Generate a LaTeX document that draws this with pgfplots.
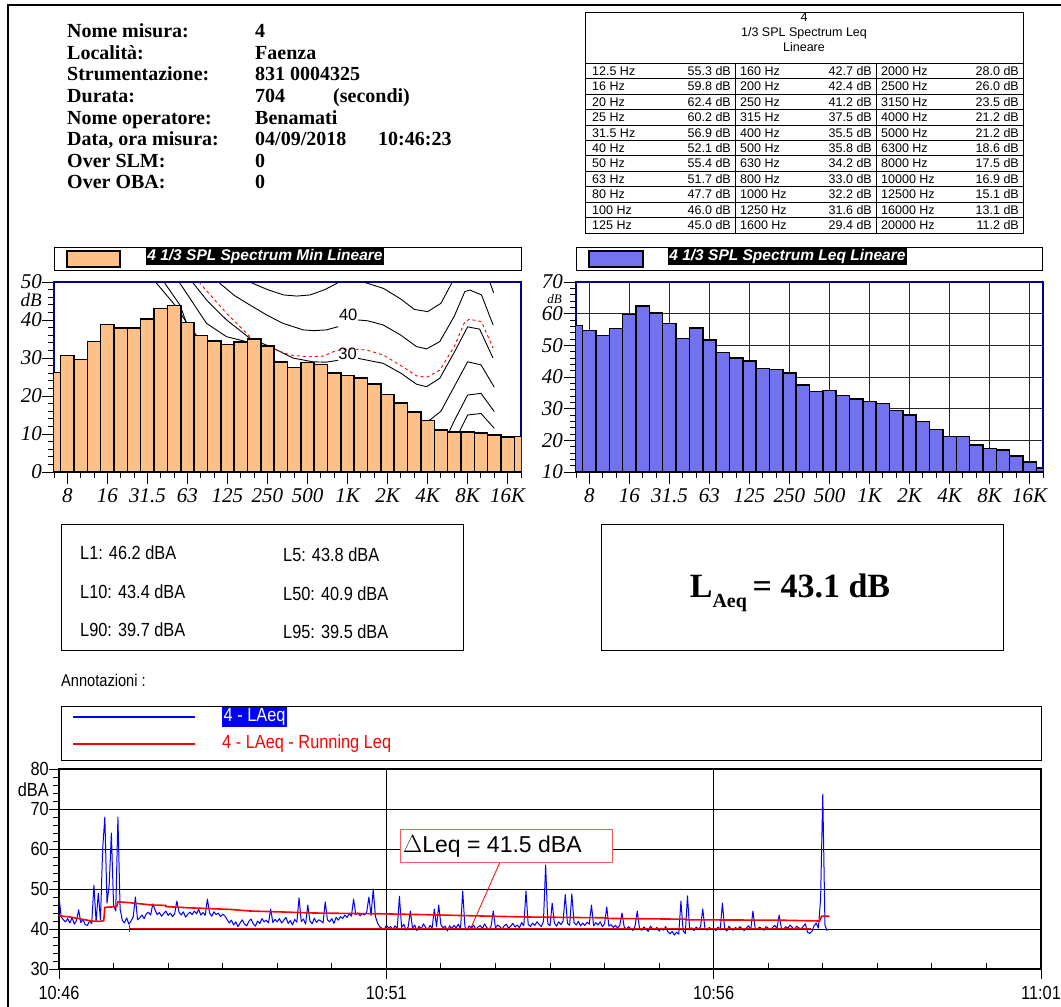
\documentclass[border=0pt]{standalone}
\usepackage{fontspec}
\setmainfont{Liberation Sans}
\newfontfamily\tnr{Liberation Serif}
\newfontfamily\arn[FakeStretch=0.86]{Liberation Sans}
\usepackage{pgfplots}
\usepackage{pgfplotstable}
\pgfplotsset{compat=1.18}
\newcommand{\fs}[1]{\fontsize{#1}{#1}\selectfont}
\definecolor{barorange}{RGB}{253,192,134}
\definecolor{barblue}{RGB}{115,115,240}
\definecolor{navyframe}{RGB}{0,0,140}
\definecolor{annred}{RGB}{250,90,90}

% 1/3 octave bands: idx 0 = 6.3 Hz ... idx 35 = 20 kHz
\pgfplotstableread{
idx minv leqv
0 26.2 56.3
1 30.6 54.7
2 29.6 53.1
3 34.4 55.3
4 38.8 59.8
5 37.9 62.4
6 37.9 60.2
7 40.3 56.9
8 43.0 52.1
9 43.8 55.4
10 39.3 51.7
11 35.9 47.7
12 34.5 46.0
13 33.5 45.0
14 34.2 42.7
15 35.0 42.4
16 33.1 41.2
17 28.9 37.5
18 27.5 35.5
19 28.8 35.8
20 28.3 34.2
21 26.0 33.0
22 25.4 32.2
23 24.7 31.6
24 23.1 29.4
25 20.4 28.0
26 18.1 26.0
27 15.8 23.5
28 13.5 21.2
29 11.1 21.2
30 10.5 18.6
31 10.5 17.5
32 10.2 16.9
33 9.8 15.1
34 9.2 13.1
35 9.4 11.2
}\spectra

% LAeq, one value every 2 s from the start
\pgfplotstableread[row sep=\\]{v\\
48.2\\43.0\\42.3\\41.8\\42.6\\41.5\\42.9\\41.2\\42.1\\44.8\\41.6\\42.4\\41.1\\40.9\\42.0\\41.4\\51.0\\41.8\\49.0\\42.2\\
60.0\\68.0\\46.5\\51.0\\64.0\\46.0\\44.5\\68.0\\45.0\\42.2\\41.5\\42.8\\41.2\\42.0\\43.0\\48.0\\42.3\\42.8\\43.5\\42.6\\
43.8\\44.2\\43.5\\46.3\\44.8\\43.6\\44.1\\43.2\\43.9\\44.5\\43.4\\44.0\\43.1\\43.8\\47.0\\44.2\\43.5\\44.3\\43.0\\43.7\\
44.2\\43.6\\44.5\\43.8\\44.9\\43.5\\44.1\\43.4\\47.5\\44.0\\43.2\\44.3\\43.6\\44.0\\43.1\\43.7\\43.3\\42.4\\41.5\\42.2\\
41.0\\41.8\\40.6\\41.5\\42.3\\41.2\\40.8\\41.9\\42.5\\41.3\\40.7\\42.0\\41.4\\42.6\\41.8\\42.2\\41.5\\45.0\\41.6\\42.4\\
41.8\\42.6\\41.5\\42.2\\42.9\\41.4\\42.1\\41.0\\42.4\\41.7\\47.8\\41.9\\42.5\\41.2\\46.0\\42.0\\41.3\\42.7\\41.6\\42.3\\
42.0\\41.5\\46.8\\42.3\\41.8\\42.6\\41.4\\42.9\\42.2\\43.1\\42.6\\43.5\\42.9\\43.8\\43.2\\47.5\\43.6\\44.0\\43.3\\43.9\\
43.5\\44.2\\48.0\\43.4\\50.0\\43.1\\41.5\\40.5\\40.2\\39.8\\40.9\\40.3\\40.6\\39.9\\40.8\\40.1\\48.2\\40.4\\41.2\\39.7\\
40.5\\44.5\\40.2\\41.0\\39.6\\40.7\\40.0\\41.3\\40.4\\39.8\\40.9\\40.2\\45.0\\40.6\\46.0\\41.1\\40.3\\40.7\\39.5\\40.8\\
40.1\\40.9\\40.3\\41.2\\40.0\\49.5\\40.6\\39.7\\40.8\\40.2\\41.0\\39.9\\40.5\\40.9\\40.1\\41.3\\40.4\\39.8\\40.7\\44.5\\
40.3\\41.0\\40.6\\39.9\\40.8\\41.2\\40.2\\40.7\\41.4\\40.5\\41.0\\40.3\\41.6\\40.8\\49.5\\41.2\\40.6\\41.5\\40.9\\41.8\\
41.2\\40.6\\41.9\\56.0\\41.3\\40.8\\46.5\\41.5\\40.7\\41.8\\41.1\\42.0\\48.6\\41.4\\40.9\\48.8\\41.6\\41.0\\41.9\\40.8\\
41.5\\40.9\\41.7\\41.2\\46.0\\40.8\\41.6\\41.0\\41.8\\40.6\\41.3\\45.5\\40.7\\41.1\\40.4\\40.9\\40.2\\41.0\\44.0\\40.5\\
39.9\\40.6\\40.1\\39.6\\40.8\\44.5\\40.2\\39.7\\40.5\\40.0\\39.4\\40.7\\40.1\\39.8\\40.4\\39.5\\40.2\\39.7\\40.6\\39.3\\
38.8\\39.4\\38.5\\39.2\\38.7\\47.0\\39.5\\38.9\\48.3\\39.8\\40.3\\39.6\\40.5\\39.9\\40.6\\45.0\\40.1\\39.7\\40.4\\39.9\\
40.2\\39.6\\40.5\\39.8\\46.5\\40.3\\39.5\\40.7\\40.0\\39.7\\40.4\\39.9\\40.6\\40.1\\39.6\\40.3\\40.8\\39.8\\44.5\\40.2\\
39.9\\40.5\\40.1\\39.7\\40.6\\40.2\\39.8\\40.4\\40.9\\40.1\\43.5\\40.3\\39.9\\40.6\\40.2\\41.0\\40.4\\39.8\\40.7\\40.3\\
40.0\\40.6\\41.3\\39.2\\38.9\\39.4\\40.8\\41.5\\40.2\\47.6\\73.7\\41.0\\39.5\\
}\laeq

\newcommand{\trow}[7]{%
  \pgfmathsetmacro{\yy}{63+15.45*#1+12.2}%
  \node[anchor=base west] at (592,\yy) {#2};
  \node[anchor=base east] at (731,\yy) {#3};
  \node[anchor=base west] at (740,\yy) {#4};
  \node[anchor=base east] at (872,\yy) {#5};
  \node[anchor=base west] at (881,\yy) {#6};
  \node[anchor=base east] at (1019,\yy) {#7};}

\pgfplotsset{
  specstyle/.style={
    anchor=south west, scale only axis, width=467pt, height=190pt,
    xmin=0, xmax=35,
    axis line style={navyframe, line width=2pt},
    xtick={1,4,...,34},
    xticklabels={8,16,31.5,63,125,250,500,1K,2K,4K,8K,16K},
    minor xtick={0,...,35},
    minor y tick num=4,
    xtick pos=left, ytick pos=left,
    tick align=outside, major tick length=12pt, minor tick length=6pt,
    tick style={black, line width=1pt},
    ticklabel style={font=\tnr\itshape\fs{21}},
    /pgf/number format/assume math mode=true,
    xticklabel style={inner sep=0pt, anchor=north, yshift=-4pt},
    yticklabel style={inner sep=0pt, anchor=east, xshift=0pt},
    no markers,
  }
}

\begin{document}
\begin{tikzpicture}
\useasboundingbox (0pt,0pt) rectangle (1061pt,-1007pt);
\begin{scope}[x=1pt,y=-1pt, every node/.style={inner sep=0pt}]
  % page border
  \draw[line width=2.5pt] (8,1007) -- (8,5) -- (1061,5);
  % info block
  \begin{scope}[font=\tnr\bfseries\fs{20}]
    \node[anchor=base west] at (67,37.5) {Nome misura:};
    \node[anchor=base west] at (67,59) {Località:};
    \node[anchor=base west] at (67,80.5) {Strumentazione:};
    \node[anchor=base west] at (67,102) {Durata:};
    \node[anchor=base west] at (67,124) {Nome operatore:};
    \node[anchor=base west] at (67,145.5) {Data, ora misura:};
    \node[anchor=base west] at (67,167) {Over SLM:};
    \node[anchor=base west] at (67,188.5) {Over OBA:};
    \node[anchor=base west] at (255,37.5) {4};
    \node[anchor=base west] at (255,59) {Faenza};
    \node[anchor=base west] at (255,80.5) {831 0004325};
    \node[anchor=base west] at (255,102) {704};
    \node[anchor=base west] at (333,102) {(secondi)};
    \node[anchor=base west] at (255,124) {Benamati};
    \node[anchor=base west] at (255,145.5) {04/09/2018};
    \node[anchor=base west] at (378,145.5) {10:46:23};
    \node[anchor=base west] at (255,167) {0};
    \node[anchor=base west] at (255,188.5) {0};
  \end{scope}
  % spectrum table
  \draw[line width=0.8pt] (585,12) rectangle (1023,233);
  \draw[line width=0.7pt] (585,63) -- (1023,63);
  \foreach \i in {1,...,10} \draw[line width=0.5pt] (585,{63+15.45*\i}) -- (1023,{63+15.45*\i});
  \draw[line width=0.6pt] (735,63) -- (735,233);
  \draw[line width=0.6pt] (876,63) -- (876,233);
  \begin{scope}[font=\fs{12.5}]
    \node[anchor=base] at (804,21.5) {4};
    \node[anchor=base] at (804,36) {1/3 SPL Spectrum Leq};
    \node[anchor=base] at (804,51.5) {Lineare};
    \trow{0}{12.5 Hz}{55.3 dB}{160 Hz}{42.7 dB}{2000 Hz}{28.0 dB}
    \trow{1}{16 Hz}{59.8 dB}{200 Hz}{42.4 dB}{2500 Hz}{26.0 dB}
    \trow{2}{20 Hz}{62.4 dB}{250 Hz}{41.2 dB}{3150 Hz}{23.5 dB}
    \trow{3}{25 Hz}{60.2 dB}{315 Hz}{37.5 dB}{4000 Hz}{21.2 dB}
    \trow{4}{31.5 Hz}{56.9 dB}{400 Hz}{35.5 dB}{5000 Hz}{21.2 dB}
    \trow{5}{40 Hz}{52.1 dB}{500 Hz}{35.8 dB}{6300 Hz}{18.6 dB}
    \trow{6}{50 Hz}{55.4 dB}{630 Hz}{34.2 dB}{8000 Hz}{17.5 dB}
    \trow{7}{63 Hz}{51.7 dB}{800 Hz}{33.0 dB}{10000 Hz}{16.9 dB}
    \trow{8}{80 Hz}{47.7 dB}{1000 Hz}{32.2 dB}{12500 Hz}{15.1 dB}
    \trow{9}{100 Hz}{46.0 dB}{1250 Hz}{31.6 dB}{16000 Hz}{13.1 dB}
    \trow{10}{125 Hz}{45.0 dB}{1600 Hz}{29.4 dB}{20000 Hz}{11.2 dB}
  \end{scope}
  % chart title bars
  \draw[line width=0.8pt] (54,247) rectangle (521,270);
  \draw[line width=1.5pt, fill=barorange] (67,251) rectangle (120,267);
  \node[fill=black, text=white, inner sep=1.2pt, anchor=west, font=\bfseries\itshape\fs{15.5}] at (146,256.5) {4 1/3 SPL Spectrum Min Lineare};
  \draw[line width=0.8pt] (576,247) rectangle (1042,270);
  \draw[line width=1.5pt, fill=barblue] (589,251) rectangle (643,267);
  \node[fill=black, text=white, inner sep=1.2pt, anchor=west, font=\bfseries\itshape\fs{15.5}] at (668,256.5) {4 1/3 SPL Spectrum Leq Lineare};
  % dB unit labels
  \node[anchor=east, font=\tnr\itshape\fs{19}] at (42,300) {dB};
  \node[anchor=east, font=\tnr\itshape\fs{13}] at (562,299) {dB};
  % statistics boxes
  \draw[line width=0.8pt] (61,524) rectangle (463,650);
  \begin{scope}[font=\arn\fs{19}]
    \node[anchor=base west] at (80,559) {L1: 46.2 dBA};
    \node[anchor=base west] at (283,561) {L5: 43.8 dBA};
    \node[anchor=base west] at (80,598) {L10: 43.4 dBA};
    \node[anchor=base west] at (283,600) {L50: 40.9 dBA};
    \node[anchor=base west] at (80,636) {L90: 39.7 dBA};
    \node[anchor=base west] at (283,638) {L95: 39.5 dBA};
  \end{scope}
  \draw[line width=0.8pt] (601,524) rectangle (1003,650);
  \node[font=\tnr\bfseries\fs{34}] at (790,593) {L\raisebox{-0.3em}{\fs{20}Aeq}\,= 43.1 dB};
  \node[anchor=west, font=\arn\fs{17}] at (61,680) {Annotazioni :};
  % time chart legend
  \draw[line width=0.8pt] (61,706) rectangle (1041,760);
  \draw[blue, line width=1.2pt] (73,717) -- (195,717);
  \draw[red, line width=1.5pt] (73,744) -- (195,744);
  \node[anchor=west, fill=blue, text=white, inner sep=1.5pt, font=\arn\fs{19}] at (222,717) {4 - LAeq};
  \node[anchor=west, text=red, font=\arn\fs{19}] at (222,744) {4 - LAeq - Running Leq};
  \node[anchor=east, font=\arn\fs{19}] at (49,790) {dBA};
\end{scope}

% ---------- left spectrum: Min ----------
\begin{axis}[specstyle, at={(54pt,-472pt)}, ymin=0, ymax=50, ytick={0,10,...,50}]
  \addplot[black, line width=0.9pt] coordinates {(7.5,51.5)(7.69,49.65)(9.06,43.95)(10,39)(12,30)(15,20)(18,10)(22,3)(28,0)(29.5,5)(30.3,10.0)(31,15.0)(32,15.4)(33,11.5)};
  \addplot[black, line width=0.9pt] coordinates {(8.1,51.5)(8.31,49.65)(9.44,43.95)(10,38.5)(11,33)(12.5,28)(14,24)(17,17)(20,12)(22,10)(25,9)(27,4.5)(28,4.7)(29,6.0)(30,13.5)(31,20.25)(32,20.7)(33,15.9)};
  \addplot[black, line width=0.9pt] coordinates {(9.2,51.5)(9.44,49.65)(11.44,39.1)(12.94,35.6)(14.43,34.3)(15.5,32)(17,28)(19,24)(21,21)(23,20)(25,19)(26.5,16)(27.5,13.5)(28,13.2)(29,16.0)(30,22.5)(31,29.0)(32,28.2)(33,22.3)};
  \addplot[black, line width=0.9pt] coordinates {(10.2,51.5)(10.44,49.65)(11.5,45)(12.94,40.0)(14.68,35.2)(16.2,33.0)(17.9,30.0)(19.4,29.0)(20.4,28.9)(21.3,29.4)};
  \addplot[black, line width=0.9pt] coordinates {(22.8,29.9)(24.67,28.6)(26,26.0)(27.17,23.1)(27.92,22.45)(28.91,24.65)(30,31.5)(31,38.2)(31.9,37.6)(32.9,30.0)};
  \addplot[red, dashed, line width=0.9pt] coordinates {(10.7,51.5)(10.94,49.65)(12.94,41.75)(14.68,35.6)(15.68,33.4)(17.68,30.8)(19,30.3)(20.17,30.5)(21.18,32.0)(22.3,32.4)(23.42,32.1)(24.67,30.8)(26,28.0)(27.17,25.3)(27.92,24.9)(28.91,26.8)(30,33.0)(30.79,39.56)(31.16,40.2)(32.04,39.56)(32.91,32.6)};
  \addplot[black, line width=0.9pt] coordinates {(12.1,51.5)(12.43,49.65)(13.5,46.5)(14.68,43.95)(16,41.2)(17.18,39.1)(18.68,37.4)(19.5,37.2)(20.42,37.4)(21.3,38.25)};
  \addplot[black, line width=0.9pt] coordinates {(22.8,40.0)(23.5,39.8)(24.67,38.7)(26,36.0)(27.17,33.0)(27.92,32.4)(28.91,34.3)(30,41.0)(30.79,47.46)(31.16,47.9)(32.04,46.6)(32.91,38.7)};
  \addplot[black, line width=0.9pt] coordinates {(14.0,51.5)(14.9,49.65)(16,48.0)(17.2,46.6)(18.2,46.3)(19.2,46.6)(20.3,48.0)(21.2,49.65)(21.6,51)};
  \addplot[black, line width=0.9pt] coordinates {(22.4,51.5)(23.2,50.0)(24.7,48.3)(26,45.5)(27,42.8)(28,42.2)(29,44.4)(29.8,49.65)(30.1,51.5)};
  \addplot[black, line width=0.9pt] coordinates {(32.5,51.5)(32.95,47.2)};
  \node[font=\fs{16.5}, inner sep=0pt] at (axis cs:22.05,41.3) {40};
  \node[font=\fs{16.5}, inner sep=0pt] at (axis cs:22.0,31.0) {30};
  \addplot[ybar, bar width=1, bar shift=0pt, fill=barorange, draw=black, line width=1.5pt] table[x=idx, y=minv] {\spectra};
\end{axis}

% ---------- right spectrum: Leq ----------
\begin{axis}[specstyle, at={(576pt,-472pt)}, ymin=10, ymax=70, ytick={10,20,...,70},
  yticklabel style={xshift=-1pt},
  xmajorgrids, ymajorgrids, grid style={black!85, line width=0.8pt}]
  \addplot[ybar, bar width=1, bar shift=0pt, fill=barblue, draw=black, line width=1.5pt] table[x=idx, y=leqv] {\spectra};
\end{axis}

% ---------- time history ----------
\begin{axis}[at={(59pt,-969pt)}, anchor=south west, scale only axis, width=982pt, height=200pt,
  xmin=0, xmax=900, ymin=30, ymax=80,
  axis line style={black, line width=1.2pt},
  ytick={30,40,...,80}, minor y tick num=4,
  xtick={0,300,600,900}, xticklabels={10:46,10:51,10:56,11:01},
  extra x ticks={50,100,150,200,250,350,400,450,500,550,650,700,750,800,850},
  extra x tick labels={},
  extra x tick style={tick align=inside, major tick length=6pt, xmajorgrids=false, ymajorgrids=false},
  xtick pos=left, ytick pos=left,
  tick align=outside, major tick length=10pt, minor tick length=6pt,
  tick style={black, line width=0.8pt},
  xmajorgrids, ymajorgrids, grid style={black, line width=0.9pt},
  ticklabel style={font=\arn\fs{19}},
  /pgf/number format/assume math mode=true,
  xticklabel style={inner sep=0pt, anchor=north, yshift=-7pt},
  yticklabel style={inner sep=0pt, anchor=east, xshift=0pt},
  no markers]
  \addplot[blue, line width=1pt, line join=round] table[x expr=2*\coordindex, y=v] {\laeq};
  \addplot[red, line width=1.6pt] coordinates {(0,43.3)(10,43.0)(20,42.5)(30,42.0)(38,41.9)(41,42.1)(42,45.4)(53,45.6)(54,46.8)(64,46.6)(85,46.0)(98,45.9)(98,45.6)(119,45.3)(157,44.9)(175,44.5)(200,44.3)(234,44.0)(296,43.8)(333,43.6)(380,43.3)(429,43.0)(502,42.8)(502,42.65)(575,42.45)(575,42.3)(663,42.2)(697,42.0)(699,43.2)(706,43.2)};
  \addplot[red, line width=1.2pt] coordinates {(64.5,40.1)(689,40.1)};
  \addplot[red, line width=1.2pt] coordinates {(64.5,39.2)(64.5,40.9)};
  \node[font=\arn\fs{19}, inner sep=0pt, anchor=north] at (axis cs:150,30) [yshift=-17pt] {hms};
\end{axis}

\begin{scope}[x=1pt,y=-1pt, every node/.style={inner sep=0pt}]
  \draw[red, line width=0.8pt] (500,862) -- (470,930);
  \draw[annred, line width=1pt, fill=white] (400,829) rectangle (612,862);
  \node[anchor=west, font=\fs{23}] at (403,846) {$\Delta$Leq = 41.5 dBA};
\end{scope}
\end{tikzpicture}
\end{document}
